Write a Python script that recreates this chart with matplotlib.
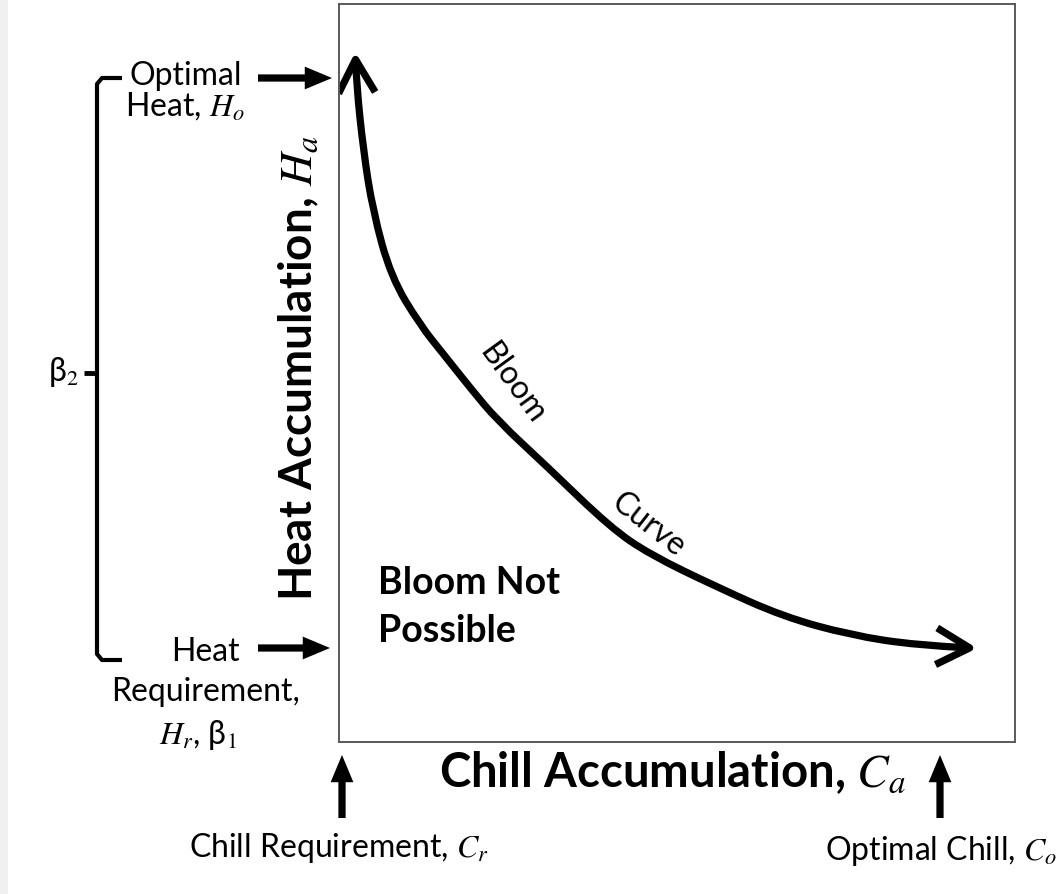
import matplotlib
matplotlib.use("Agg")
import matplotlib.pyplot as plt
from matplotlib.patches import FancyArrowPatch, Rectangle
from matplotlib.path import Path

plt.rcParams['font.family'] = ['Lato', 'DejaVu Sans']
plt.rcParams['mathtext.fontset'] = 'stix'

# Bloom curve (chill accumulation vs heat accumulation, 0-100 scale)
chill = [2.4, 2.6, 3.6, 5.0, 7.7, 12.0, 15.5, 19.4, 23.4, 30.8, 40.1, 46.0, 55.9, 65.7, 75.6, 85.5, 94.4]
heat = [93.5, 89.0, 80.2, 72.0, 63.0, 56.5, 52.5, 48.0, 43.6, 37.3, 29.1, 25.4, 21.0, 17.0, 14.5, 13.1, 12.7]

x_label = 'Chill Accumulation, $C_a$'
y_label = 'Heat Accumulation, $H_a$'
region_label = ['Bloom Not', 'Possible']
curve_words = ['Bloom', 'Curve']
heat_top = ['Optimal', 'Heat, $H_o$']
heat_bottom = ['Heat', 'Requirement,', '$H_r$, β$_1$']
bracket_label = 'β$_2$'
chill_left = 'Chill Requirement, $C_r$'
chill_right = 'Optimal Chill, $C_o$'

W, H = 1060, 894
fig = plt.figure(figsize=(W / 100, H / 100), dpi=100)

# main box
ax = fig.add_axes([339 / W, (H - 742) / H, 676 / W, 738 / H])
ax.set_xlim(0, 100)
ax.set_ylim(0, 100)
ax.set_xticks([])
ax.set_yticks([])
for s in ax.spines.values():
    s.set_color('#5a5a5a')
    s.set_linewidth(1.4)

# smooth quadratic Bezier through the read points (points used as control points)
pts = list(zip(chill, heat))
verts = [pts[0]]
codes = [Path.MOVETO]
for i in range(1, len(pts) - 1):
    nxt = pts[i + 1] if i + 1 == len(pts) - 1 else ((pts[i][0] + pts[i + 1][0]) / 2, (pts[i][1] + pts[i + 1][1]) / 2)
    verts += [pts[i], nxt]
    codes += [Path.CURVE3, Path.CURVE3]
curve = FancyArrowPatch(path=Path(verts, codes),
                        arrowstyle='<->,head_length=0.6,head_width=0.33',
                        mutation_scale=40, lw=5.2, color='black',
                        transform=ax.transData, joinstyle='round', capstyle='butt')
ax.add_patch(curve)

# overlay in pixel coordinates
ov = fig.add_axes([0, 0, 1, 1], facecolor='none')
ov.set_xlim(0, W)
ov.set_ylim(H, 0)
ov.axis('off')

ov.add_patch(Rectangle((0, 0), 8, H, color='#f0f0f0', lw=0, zorder=0))

def solid_arrow(p0, p1):
    a = FancyArrowPatch(p0, p1, arrowstyle='simple,head_length=0.98,head_width=0.82,tail_width=0.26',
                        mutation_scale=20, color='black', lw=0, shrinkA=0, shrinkB=0,
                        transform=ov.transData)
    ov.add_patch(a)

solid_arrow((258, 78), (332, 78))
solid_arrow((258, 648), (330, 648))
solid_arrow((342, 818), (342, 755))
solid_arrow((940, 818), (940, 755))

# bracket
bx = [122, 102, 97, 97, 102, 122]
by = [78, 78, 84, 654, 660, 660]
ov.plot(bx, by, color='black', lw=3, solid_joinstyle='round', solid_capstyle='butt')
ov.plot([84, 97], [373, 373], color='black', lw=3.5, solid_capstyle='butt')

small = 23
ov.text(186, 76, heat_top[0], fontsize=small, ha='center', va='center')
ov.text(185, 106, heat_top[1], fontsize=small, ha='center', va='center')
ov.text(205, 652, heat_bottom[0], fontsize=small, ha='center', va='center')
ov.text(205, 692, heat_bottom[1], fontsize=small, ha='center', va='center')
ov.text(198, 735, heat_bottom[2], fontsize=small, ha='center', va='center')
ov.text(63, 372, bracket_label, fontsize=small, ha='center', va='center')

ov.text(299, 368, y_label, fontsize=33, fontweight='bold', rotation=90, ha='center', va='center')
ov.text(672, 773, x_label, fontsize=34, fontweight='bold', ha='center', va='center')

ov.text(378, 583, region_label[0], fontsize=27, fontweight='bold', ha='left', va='center')
ov.text(378, 631, region_label[1], fontsize=27, fontweight='bold', ha='left', va='center')

ov.text(512, 383, curve_words[0], fontsize=23, rotation=-54, ha='center', va='center', rotation_mode='anchor')
ov.text(648, 525, curve_words[1], fontsize=23, rotation=-38, ha='center', va='center', rotation_mode='anchor')

ov.text(339, 848, chill_left, fontsize=small, ha='center', va='center')
ov.text(825, 851, chill_right, fontsize=small, ha='left', va='center')

fig.savefig('out.png', dpi=100)
